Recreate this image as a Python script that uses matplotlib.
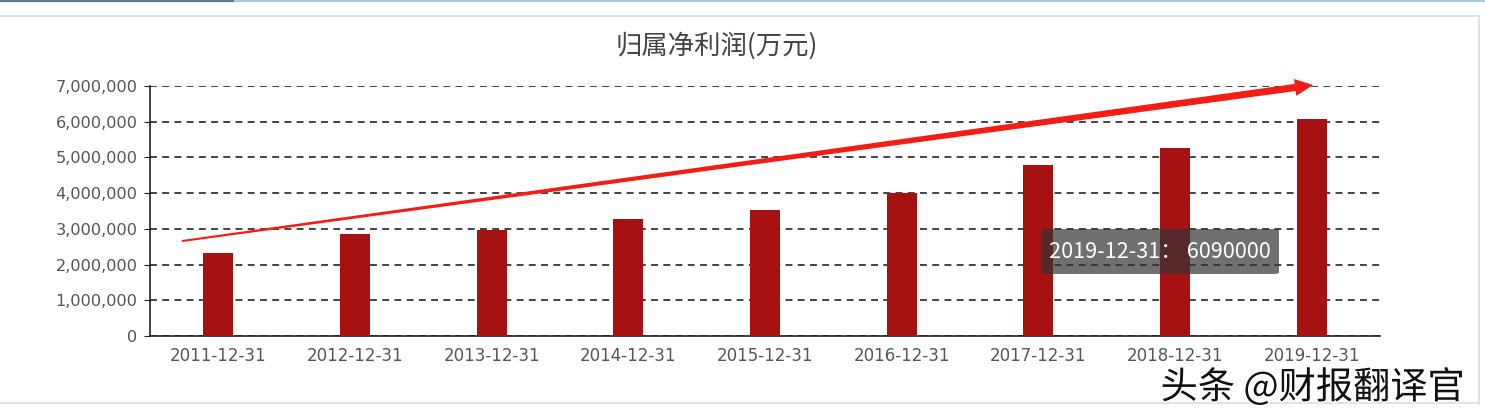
import numpy as np
import matplotlib
matplotlib.use("Agg")
import matplotlib.pyplot as plt
from matplotlib.patches import Polygon, FancyBboxPatch
from matplotlib.lines import Line2D
import matplotlib.patheffects as pe
from matplotlib.ticker import FuncFormatter, MultipleLocator

plt.rcParams['font.family'] = ['Noto Sans CJK SC', 'DejaVu Sans']

categories = ["2011-12-31", "2012-12-31", "2013-12-31", "2014-12-31", "2015-12-31",
              "2016-12-31", "2017-12-31", "2018-12-31", "2019-12-31"]
profit = [2320000, 2860000, 2980000, 3290000, 3530000, 4000000, 4790000, 5270000, 6090000]
title = "归属净利润(万元)"
tooltip = "2019-12-31： 6090000"
watermark = "头条 @财报翻译官"

W, H = 1485, 419
fig = plt.figure(figsize=(W / 100, H / 100), dpi=100)
fig.patch.set_facecolor("white")

def fx(px):
    return px / W

def fy(py):
    return 1 - py / H

# page decorations
fig.add_artist(Line2D([fx(0), fx(235)], [fy(0.8), fy(0.8)], color="#5b7891", lw=1.6))
fig.add_artist(Line2D([fx(235), fx(1485)], [fy(0.8), fy(0.8)], color="#a9c9dc", lw=1.6))
fig.add_artist(Line2D([fx(0), fx(1479)], [fy(16), fy(16)], color="#dddddd", lw=1.2))
fig.add_artist(Line2D([fx(1478.5), fx(1478.5)], [fy(16), fy(404)], color="#dddddd", lw=1.2))
fig.add_artist(Line2D([fx(0), fx(1479)], [fy(403), fy(403)], color="#dddddd", lw=1.2))

ax = fig.add_axes([fx(150), fy(336), fx(1380) - fx(150), fy(86) - fy(336)])
x = np.arange(len(categories))
ax.bar(x, profit, width=0.22, color="#a61212", zorder=3)
ax.set_xlim(-0.5, len(categories) - 0.5)
ax.set_ylim(0, 7000000)
ax.yaxis.set_major_locator(MultipleLocator(1000000))
ax.yaxis.set_major_formatter(FuncFormatter(lambda v, p: f"{int(v):,}"))
ax.set_xticks(x)
ax.set_xticklabels(categories)
ax.grid(axis="y", color="#111111", linestyle=(0, (4.5, 3.5)), linewidth=1.1, zorder=1)
ax.set_axisbelow(True)
for s in ["top", "right"]:
    ax.spines[s].set_visible(False)
ax.spines["left"].set_color("#222222")
ax.spines["bottom"].set_color("#222222")
ax.spines["left"].set_linewidth(1.2)
ax.spines["bottom"].set_linewidth(1.2)
ax.tick_params(axis="y", length=4, color="#222222", pad=5)
ax.tick_params(axis="x", length=0, pad=8)
for lab in ax.get_yticklabels():
    lab.set_fontfamily("DejaVu Sans")
    lab.set_fontsize(11.6)
    lab.set_color("#555555")
for lab in ax.get_xticklabels():
    lab.set_fontfamily("DejaVu Sans")
    lab.set_fontsize(12)
    lab.set_color("#555555")

fig.text(fx(717), fy(46), title, ha="center", va="center", fontsize=19, color="#444444")

# tooltip
tb = FancyBboxPatch((fx(1042), fy(274)), fx(1279) - fx(1042), fy(229) - fy(274),
                    boxstyle="round,pad=0,rounding_size=0.004", transform=fig.transFigure,
                    facecolor="#333333", alpha=0.7, edgecolor="none", zorder=10)
fig.add_artist(tb)
fig.text(fx(1049), fy(252), tooltip, ha="left", va="center", fontsize=15.6,
         color="white", zorder=11)

# hand-drawn arrow annotation
p0 = np.array([182.0, 241.0])
tip = np.array([1313.0, 85.0])
d = tip - p0
u = d / np.linalg.norm(d)
n = np.array([u[1], -u[0]])
base = tip - 18 * u
pts = [p0 + 1.0 * n, base + 3.6 * n, base + 8.5 * n, tip,
       base - 8.5 * n, base - 3.6 * n, p0 - 1.0 * n]
poly = Polygon([(fx(px), fy(py)) for px, py in pts], closed=True,
               transform=fig.transFigure, facecolor="#f21d14", edgecolor="none", zorder=12)
fig.add_artist(poly)

fig.text(fx(1465), fy(388), watermark, ha="right", va="center", fontsize=26.8, color="#111111",
         path_effects=[pe.withStroke(linewidth=2, foreground="white")], zorder=13)

fig.savefig("out.png", dpi=100)
